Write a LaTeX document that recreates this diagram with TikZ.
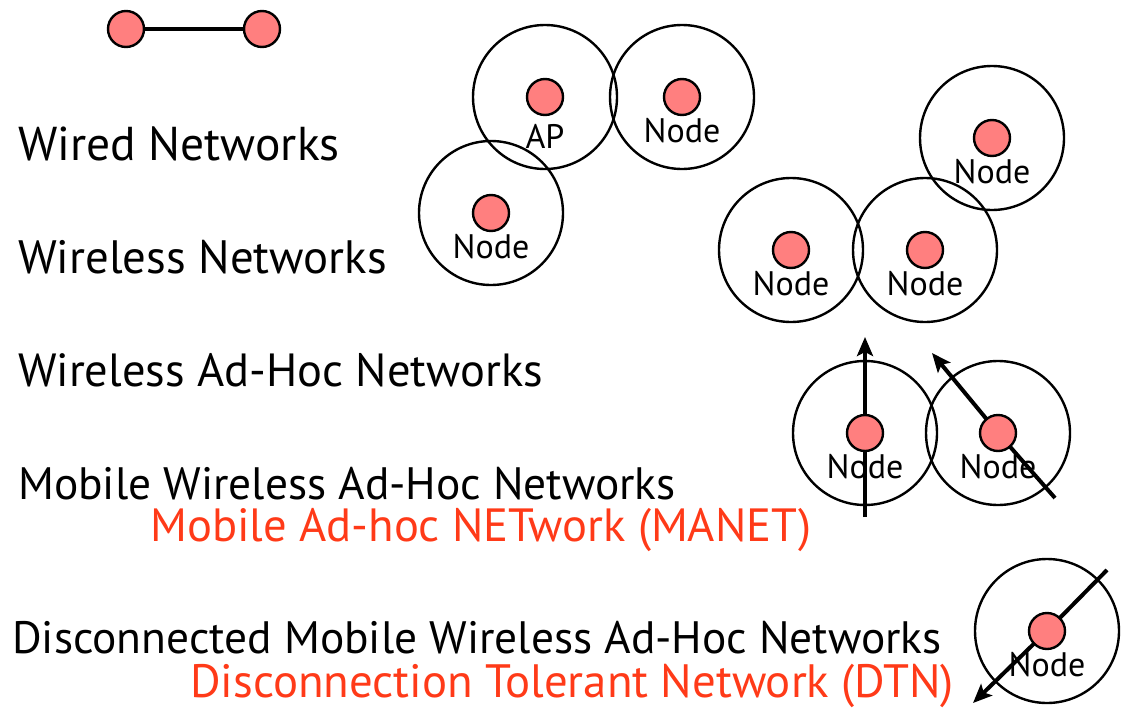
\documentclass[tikz,border=0pt]{standalone}
\usepackage{fontspec}
\setmainfont{PT Sans}
\usetikzlibrary{arrows.meta}
\definecolor{nodefill}{HTML}{FF7F7F}
\definecolor{termred}{HTML}{FF3A18}
\newcommand{\headsz}[1]{\fontsize{#1}{#1}\selectfont}
\begin{document}
\begin{tikzpicture}[x=1pt,y=-1pt,
  stationdot/.style={circle,draw,line width=2.4pt,fill=nodefill,minimum size=36pt,inner sep=0pt},
  coverage/.style={draw,line width=2.4pt},
  stationtag/.style={anchor=base,inner sep=0pt,font=\fontsize{34}{36}\selectfont},
  headingtext/.style={anchor=base west,inner sep=0pt},
  termtext/.style={headingtext,text=termred},
  wirelink/.style={line width=4pt},
  motionarrow/.style={line width=4pt,-{Stealth[length=19pt,width=16pt,inset=4pt]}}]
\useasboundingbox (0,0) rectangle (1121,709);

% --- category headings ---
\node[headingtext,font=\headsz{47.5}] (wired)  at (18,160) {Wired Networks};
\node[headingtext,font=\headsz{46.8}] (wless)  at (18,273) {Wireless Networks};
\node[headingtext,font=\headsz{46.5}] (adhoc)  at (18,386) {Wireless Ad-Hoc Networks};
\node[headingtext,font=\headsz{45.4}] (mobile) at (18,499) {Mobile Wireless Ad-Hoc Networks};
\node[termtext,font=\headsz{46.6}]    (manet)  at (150,541) {Mobile Ad-hoc NETwork (MANET)};
\node[headingtext,font=\headsz{45.4}] (discon) at (12,653) {Disconnected Mobile Wireless Ad-Hoc Networks};
\node[termtext,font=\headsz{46.8}]    (dtn)    at (190,697) {Disconnection Tolerant Network (DTN)};

% --- station positions ---
\coordinate (wa) at (126,29);
\coordinate (wb) at (262,29);
\coordinate (ap) at (545,97);
\coordinate (n1) at (682,97);
\coordinate (n2) at (491,213);
\coordinate (h1) at (992,138);
\coordinate (h2) at (791,250);
\coordinate (h3) at (925,250);
\coordinate (m1) at (865,433);
\coordinate (m2) at (998,433);
\coordinate (d1) at (1047,631);

% --- radio ranges ---
\foreach \c in {ap,n1,n2,h1,h2,h3,m1,m2,d1}
  \draw[coverage] (\c) circle[radius=72];

% --- station labels (baseline below each station) ---
\node[stationtag] (lap) at ([yshift=-51pt]ap) {AP};
\foreach \c in {n1,n2,h1,h2,h3,m1,m2,d1}
  \node[stationtag] (l\c) at ([yshift=-45pt]\c) {Node};

% --- movement directions ---
\coordinate (m1s) at (865,517);
\coordinate (m1e) at (865,337);
\coordinate (m2s) at (1055,498);
\coordinate (m2e) at (932,353);
\coordinate (d1s) at (1107,570);
\coordinate (d1e) at (973,703);
\draw[motionarrow] (m1s) -- (m1) -- (m1e);
\draw[motionarrow] (m2s) -- (m2) -- (m2e);
\draw[motionarrow] (d1s) -- (d1) -- (d1e);

% --- wired link ---
\draw[wirelink] (wa) -- (wb);

% --- stations ---
\foreach \c in {wa,wb,ap,n1,n2,h1,h2,h3,m1,m2,d1}
  \node[stationdot] (s\c) at (\c) {};
\end{tikzpicture}
\end{document}
